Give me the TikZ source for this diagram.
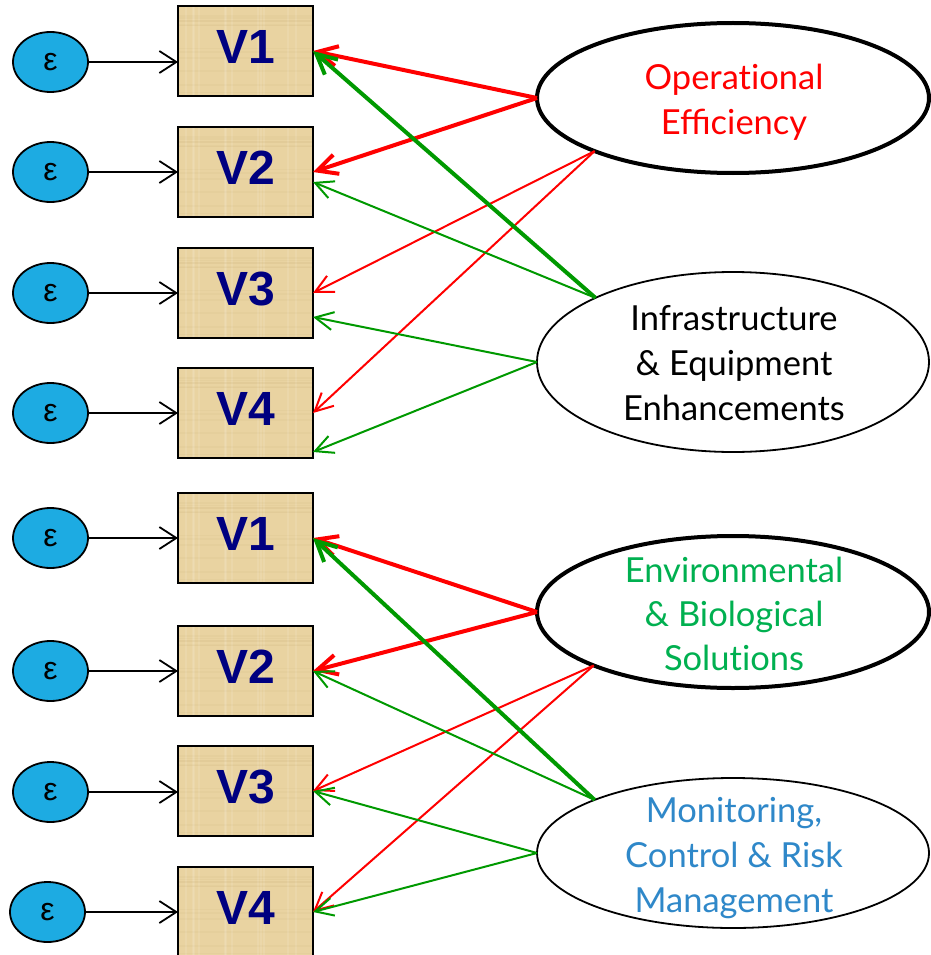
\documentclass[tikz,border=0pt]{standalone}
\usepackage{fontspec}
\setmainfont{Lato}
\newfontfamily\arialish{Liberation Sans}
\usetikzlibrary{arrows.meta,shapes.geometric,calc}

\definecolor{parchment}{RGB}{233,211,161}
\definecolor{parchdark}{RGB}{190,160,100}
\definecolor{navyv}{RGB}{0,0,128}
\definecolor{epsblue}{RGB}{29,171,226}
\definecolor{pathred}{RGB}{255,0,0}
\definecolor{pathgreen}{RGB}{0,153,0}
\definecolor{envgreen}{RGB}{0,176,80}
\definecolor{monblue}{RGB}{47,136,201}

\begin{document}
\begin{tikzpicture}[x=1pt,y=-1pt,
  obsbox/.style={draw=black, line width=2pt, fill=parchment, rectangle,
    minimum width=135pt, minimum height=90pt, inner sep=0pt, outer sep=0pt,
    text=navyv, font=\arialish\bfseries\fontsize{48}{48}\selectfont,
    text height=35pt, text depth=10pt,
    path picture={
      \pgfmathsetseed{7}
      \foreach \k in {1,...,12}{
        \pgfmathsetmacro\fa{rnd}
        \pgfmathsetmacro\fb{rnd}
        \draw[white, opacity=0.10, line width=2pt]
          ($(path picture bounding box.north west)!\fa!(path picture bounding box.north east)$) --
          ($(path picture bounding box.south west)!\fa!(path picture bounding box.south east)$);
        \draw[parchdark, opacity=0.07, line width=1.5pt]
          ($(path picture bounding box.north west)!\fb!(path picture bounding box.south west)$) --
          ($(path picture bounding box.north east)!\fb!(path picture bounding box.south east)$);
      }}},
  errnode/.style={draw=black, line width=1.8pt, fill=epsblue, ellipse,
    minimum width=75pt, minimum height=60pt, inner sep=0pt, outer sep=0pt,
    font=\arialish\fontsize{32}{32}\selectfont},
  latent/.style={draw=black, ellipse, fill=white, inner sep=0pt, outer sep=0pt,
    minimum width=392pt},
  boldrim/.style={line width=4pt},
  thinrim/.style={line width=1.8pt},
  lbl/.style={align=center, anchor=base, inner sep=0pt,
    font=\fontsize{34.5}{45}\selectfont},
  epsarrow/.style={draw=black, line width=1.8pt,
    -{Straight Barb[length=17pt, width=22pt, line width=1.8pt]}},
  loadthick/.style={line width=4pt,
    -{Straight Barb[length=20pt, width=20pt, line width=4pt]}},
  loadthin/.style={line width=2pt,
    -{Straight Barb[length=18pt, width=18pt, line width=2pt]}}
]
\useasboundingbox (0,0) rectangle (930,955);

% observed indicators, first block
\node[obsbox] (a1) at (245.5,51)  {V1};
\node[obsbox] (a2) at (245.5,172) {V2};
\node[obsbox] (a3) at (245.5,293) {V3};
\node[obsbox] (a4) at (245.5,413) {V4};
% observed indicators, second block
\node[obsbox] (b1) at (245.5,538) {V1};
\node[obsbox] (b2) at (245.5,671) {V2};
\node[obsbox] (b3) at (245.5,791) {V3};
\node[obsbox] (b4) at (245.5,912) {V4};

% error terms
\node[errnode] (ea1) at (50.5,62)  {ε};
\node[errnode] (ea2) at (50.5,172) {ε};
\node[errnode] (ea3) at (50.5,293) {ε};
\node[errnode] (ea4) at (50.5,413) {ε};
\node[errnode] (eb1) at (50.5,538) {ε};
\node[errnode] (eb2) at (50.5,671) {ε};
\node[errnode] (eb3) at (50.5,792) {ε};
\node[errnode] (eb4) at (47.5,912) {ε};

\foreach \e/\v in {ea1/a1, ea2/a2, ea3/a3, ea4/a4, eb1/b1, eb2/b2, eb3/b3, eb4/b4}
  \draw[epsarrow] (\e) -- (\e -| \v.west);

% latent factors
\node[latent, boldrim, minimum height=150pt] (oe) at (733,98)  {};
\node[latent, thinrim, minimum height=180pt] (ie) at (733,362) {};
\node[latent, boldrim, minimum height=152pt] (eb) at (733,612) {};
\node[latent, thinrim, minimum height=150pt] (mc) at (733,853) {};

% labels are placed by the baseline of their last line;
% a zero kern keeps "t" and "i" as separate letters
\node[lbl, text=pathred] (oe-t) at (734,135) {Operat\kern0pt ional\\Efficiency};
\node[lbl, text=black]   (ie-t) at (734,420) {Infrastructure\\\& Equipment\\Enhancements};
\node[lbl, text=envgreen, font=\fontsize{34.5}{44}\selectfont] (eb-t) at (734,670) {Environmental\\\& Biological\\Solut\kern0pt ions};
\node[lbl, text=monblue] (mc-t) at (734,912) {Monitoring,\\Control \& Risk\\Management};

% start and end points of the loadings
\coordinate (oe-lo) at (oe.201);
\coordinate (ie-hi) at (ie.155);
\coordinate (eb-lo) at (eb.201);
\coordinate (mc-hi) at (mc.159);
\coordinate (a2g) at ([yshift=-10pt]a2.east);
\coordinate (a3g) at ([yshift=-24pt]a3.east);
\coordinate (a4g) at ([yshift=-39pt]a4.east);

% loadings, first block
\draw[loadthick, pathred] (oe.west) -- (a1.east);
\draw[loadthick, pathred] (oe.west) -- (a2.east);
\draw[loadthin, pathred] (oe-lo) -- (a3.east);
\draw[loadthin, pathred] (oe-lo) -- (a4.east);
\draw[loadthick, pathgreen] (ie-hi) -- (a1.east);
\draw[loadthin, pathgreen] (ie-hi) -- (a2g);
\draw[loadthin, pathgreen] (ie.west) -- (a3g);
\draw[loadthin, pathgreen] (ie.west) -- (a4g);

% loadings, second block
\draw[loadthick, pathred] (eb.west) -- (b1.east);
\draw[loadthick, pathred] (eb.west) -- (b2.east);
\draw[loadthin, pathred] (eb-lo) -- (b3.east);
\draw[loadthin, pathred] (eb-lo) -- (b4.east);
\draw[loadthick, pathgreen] (mc-hi) -- (b1.east);
\draw[loadthin, pathgreen] (mc-hi) -- (b2.east);
\draw[loadthin, pathgreen] (mc.west) -- (b3.east);
\draw[loadthin, pathgreen] (mc.west) -- (b4.east);
\end{tikzpicture}
\end{document}
